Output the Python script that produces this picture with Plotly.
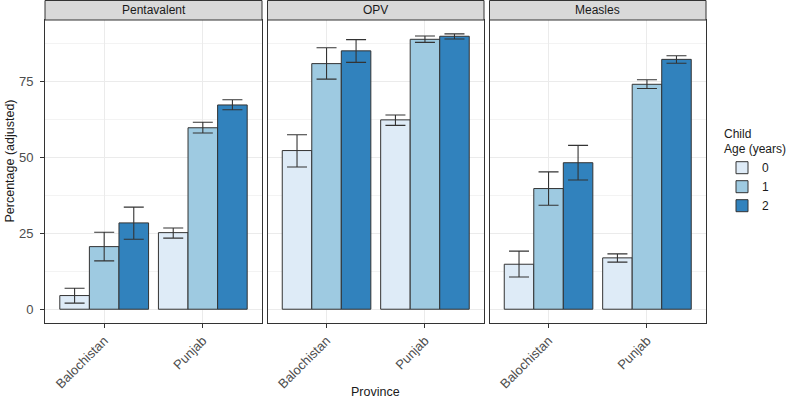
import plotly.graph_objects as go

provinces = ["Balochistan", "Punjab"]
vaccines = ["Pentavalent", "OPV", "Measles"]
ages = ["0", "1", "2"]
age_colors = ["#DEEBF7", "#9ECAE1", "#3182BD"]

# values[age][province]
pent_val = [[4.5, 25.2], [20.6, 59.7], [28.4, 67.2]]
pent_lo = [[2.0, 23.4], [15.9, 58.0], [23.0, 65.6]]
pent_hi = [[6.9, 26.7], [25.3, 61.5], [33.6, 68.9]]

opv_val = [[52.2, 62.3], [80.8, 88.8], [85.0, 89.8]]
opv_lo = [[46.8, 60.5], [75.7, 87.8], [81.2, 88.9]]
opv_hi = [[57.4, 63.9], [86.0, 89.9], [88.7, 90.6]]

meas_val = [[14.8, 16.9], [39.7, 74.0], [48.2, 82.2]]
meas_lo = [[10.6, 15.5], [34.2, 72.6], [42.5, 80.9]]
meas_hi = [[19.1, 18.2], [45.2, 75.5], [53.9, 83.4]]

y_ticks = [0, 25, 50, 75]

panels = [(pent_val, pent_lo, pent_hi), (opv_val, opv_lo, opv_hi), (meas_val, meas_lo, meas_hi)]

W, H = 789, 400
panel_px = [(45, 262), (267.5, 484), (489.5, 706)]
top_px, bot_px = 20, 323
strip_top_px = 0.5
ydom = [(H - bot_px) / H, (H - top_px) / H]

fig = go.Figure()
FONT = "Liberation Sans, Arial, sans-serif"
dark = "#333333"

for p, (vals, lo, hi) in enumerate(panels):
    xa = "x" if p == 0 else f"x{p+1}"
    ya = "y" if p == 0 else f"y{p+1}"
    for a in range(3):
        fig.add_trace(go.Bar(
            x=provinces, y=vals[a], name=ages[a],
            marker=dict(color=age_colors[a], line=dict(color=dark, width=1)),
            error_y=dict(type="data", symmetric=False,
                         array=[h - v for h, v in zip(hi[a], vals[a])],
                         arrayminus=[v - l for v, l in zip(vals[a], lo[a])],
                         color=dark, thickness=1.1, width=10),
            xaxis=xa, yaxis=ya, offsetgroup=str(a),
            legendgroup=ages[a], showlegend=(p == 0),
        ))

layout = dict(
    width=W, height=H, margin=dict(l=0, r=0, t=0, b=0, autoexpand=False),
    paper_bgcolor="white", plot_bgcolor="white",
    barmode="group", bargap=0.1, bargroupgap=0,
    font=dict(family=FONT, size=12, color="#1A1A1A"),
    showlegend=True,
    legend=dict(
        title=dict(text="Child<br>Age (years)", font=dict(size=12, color="#1A1A1A")),
        x=722 / W, xanchor="left", y=(H - 122) / H, yanchor="top",
        font=dict(size=12, color="#1A1A1A"), bgcolor="rgba(0,0,0,0)",
        tracegroupgap=0, itemwidth=30,
    ),
)

shapes = []
annotations = []
for p in range(3):
    x0, x1 = panel_px[p]
    xk = "xaxis" if p == 0 else f"xaxis{p+1}"
    yk = "yaxis" if p == 0 else f"yaxis{p+1}"
    layout[xk] = dict(
        domain=[x0 / W, x1 / W], type="category", range=[-0.6, 1.6],
        anchor="y" if p == 0 else f"y{p+1}", automargin=False,
        showgrid=True, gridcolor="#EBEBEB", gridwidth=1,
        showline=True, linecolor=dark, linewidth=1, mirror=True,
        ticks="outside", ticklen=4, tickcolor=dark, tickwidth=1,
        tickangle=-45, tickfont=dict(size=13, color="#4D4D4D"),
        zeroline=False, fixedrange=True,
    )
    layout[yk] = dict(
        domain=ydom, range=[-4.53, 95.15],
        anchor="x" if p == 0 else f"x{p+1}", automargin=False,
        tickvals=y_ticks,
        showgrid=True, gridcolor="#EBEBEB", gridwidth=1,
        minor=dict(dtick=12.5, tick0=0, showgrid=True, gridcolor="#F3F3F3", gridwidth=0.8, ticks=""),
        showline=True, linecolor=dark, linewidth=1, mirror=True,
        ticks="outside" if p == 0 else "", ticklen=4, tickcolor=dark, tickwidth=1,
        ticklabelstandoff=4,
        showticklabels=(p == 0), tickfont=dict(size=13, color="#4D4D4D"),
        zeroline=False, fixedrange=True,
    )
    shapes.append(dict(type="rect", xref="paper", yref="paper",
                       x0=x0 / W, x1=x1 / W, y0=(H - top_px) / H, y1=(H - strip_top_px) / H,
                       fillcolor="#D9D9D9", line=dict(color=dark, width=1), layer="above"))
    annotations.append(dict(text=vaccines[p], xref="paper", yref="paper",
                            x=(x0 + x1) / 2 / W, y=(H - (top_px + strip_top_px) / 2) / H,
                            xanchor="center", yanchor="middle", showarrow=False,
                            font=dict(size=12, color="#1A1A1A")))

annotations.append(dict(text="Province", xref="paper", yref="paper",
                        x=375.5 / W, y=(H - 392) / H, xanchor="center", yanchor="middle",
                        showarrow=False, font=dict(size=12.5, color="#1A1A1A")))
annotations.append(dict(text="Percentage (adjusted)", xref="paper", yref="paper",
                        x=9 / W, y=(H - 161.5) / H, xanchor="center", yanchor="middle",
                        textangle=-90, showarrow=False, font=dict(size=12.5, color="#1A1A1A")))

layout["shapes"] = shapes
layout["annotations"] = annotations
fig.update_layout(**layout)

fig.write_html("out.html", config={"displayModeBar": False},
               post_script="document.body.style.margin='0';document.body.style.overflow='hidden';")
